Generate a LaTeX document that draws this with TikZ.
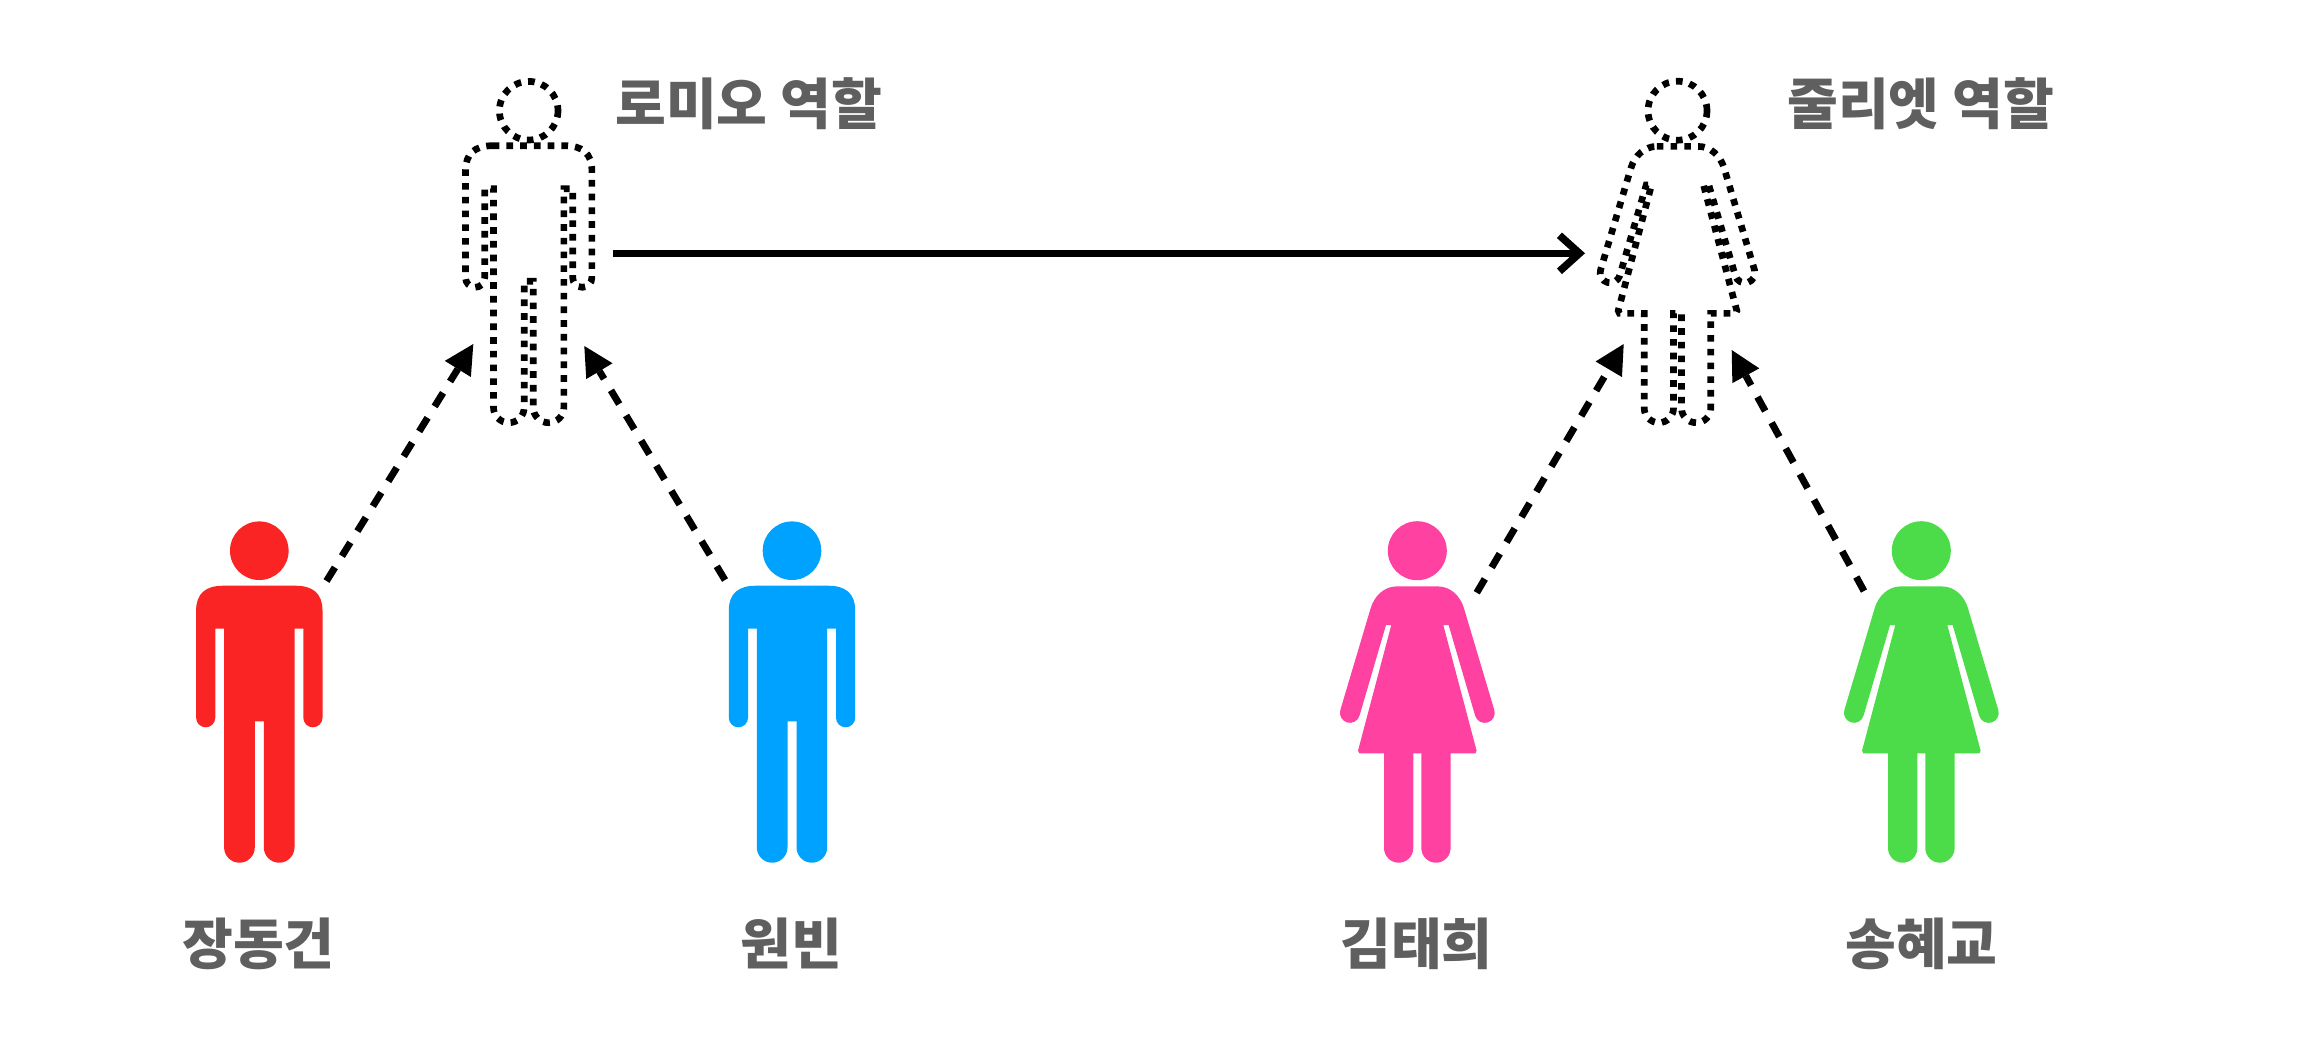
\documentclass[tikz,border=0pt]{standalone}
\usepackage{fontspec}
\newfontfamily\krfont{Noto Sans CJK KR}
\usetikzlibrary{arrows.meta}
\definecolor{labelgray}{HTML}{5F5F5F}
\definecolor{pred}{HTML}{FB2424}
\definecolor{pblue}{HTML}{00A2FF}
\definecolor{ppink}{HTML}{FF42A1}
\definecolor{pgreen}{HTML}{4CDC49}
\tikzset{
  manshape/.pic={
    \path[pic actions] (0,0) circle[radius=29.3];
    \path[pic actions] (-36,35) -- (36,35) .. controls (54,35) and (63.2,43) .. (63.2,60)
      -- (63.2,167) arc[start angle=0,end angle=180,radius=9.6]
      -- (44,78) -- (35.2,78) -- (35.2,296.65)
      arc[start angle=0,end angle=180,radius=15.35]
      -- (4.5,170.6) -- (-4.5,170.6) -- (-4.5,296.65)
      arc[start angle=0,end angle=180,radius=15.35]
      -- (-35.2,78) -- (-44,78) -- (-44,167)
      arc[start angle=0,end angle=180,radius=9.6]
      -- (-63.2,60) .. controls (-63.2,43) and (-54,35) .. (-36,35) -- cycle;
  },
  womanshape/.pic={
    \path[pic actions] (0,0) circle[radius=29.5];
    \path[pic actions] (-20.7,35.7) -- (20.7,35.7) .. controls (33,35.7) and (43,45) .. (46.7,57.7)
      -- (77,159.3) arc[start angle=-16.7,end angle=163.3,radius=10]
      -- (31.3,74.3) -- (26,74.3) -- (59.3,200) -- (58,202.7) -- (33.3,202.7) -- (33.3,297.35)
      arc[start angle=0,end angle=180,radius=14.65]
      -- (4,202.7) -- (-4,202.7) -- (-4,297.35)
      arc[start angle=0,end angle=180,radius=14.65]
      -- (-33.3,202.7) -- (-58,202.7) -- (-59.3,200) -- (-26,74.3) -- (-31.3,74.3) -- (-57.8,165)
      arc[start angle=16.7,end angle=196.7,radius=10]
      -- (-46.7,57.7) .. controls (-43,45) and (-33,35.7) .. (-20.7,35.7) -- cycle;
  },
  role/.style={draw=black,line width=5pt,dash pattern=on 5pt off 5.3pt},
  label/.style={font=\krfont\bfseries\fontsize{41.4}{41.4}\selectfont,text=labelgray,inner sep=0pt,anchor=base},
  rolelabel/.style={label,anchor=base west},
  playsarrow/.style={line width=5.2pt,dash pattern=on 12pt off 10pt,-{Triangle[length=22pt,width=23pt,line width=0pt]}},
  pairarrow/.style={line width=5.2pt,-{Straight Barb[length=15pt,width=27pt,line width=5.6pt]}},
}
\begin{document}
\begin{tikzpicture}[x=0.75pt,y=-0.75pt]
\useasboundingbox[fill=white] (0,0) rectangle (2316,1058);
\pic (romeo) at (528.7,110.7) [role] {manshape};
\pic (juliet) at (1677.5,110.7) [role] {womanshape};
\pic (jang) at (259.3,550.7) [fill=pred] {manshape};
\pic (won) at (792,550.7) [fill=pblue] {manshape};
\pic (kim) at (1417.3,550.7) [fill=ppink] {womanshape};
\pic (song) at (1921.3,550.7) [fill=pgreen] {womanshape};

\coordinate (romeoL) at (473.3,344);
\coordinate (romeoR) at (584.3,346);
\coordinate (julietL) at (1623.7,344);
\coordinate (julietR) at (1731.7,350);
\coordinate (jangOut) at (326.5,581);
\coordinate (wonOut) at (725,580);
\coordinate (kimOut) at (1476.7,592.7);
\coordinate (songOut) at (1864,591);
\coordinate (romeoOut) at (612.7,253.3);
\coordinate (julietIn) at (1585,253.3);

\draw[playsarrow] (jangOut) -- (romeoL);
\draw[playsarrow] (wonOut) -- (romeoR);
\draw[playsarrow] (kimOut) -- (julietL);
\draw[playsarrow] (songOut) -- (julietR);
\draw[pairarrow] (romeoOut) -- (julietIn);

\node[rolelabel] (romeoText) at (615,124.5) {로미오 역할};
\node[rolelabel] (julietText) at (1787,124.5) {줄리엣 역할};
\node[label] (jangText) at (258.5,964) {장동건};
\node[label] (wonText) at (791.5,964) {원빈};
\node[label] (kimText) at (1416.5,964) {김태희};
\node[label] (songText) at (1921.5,964) {송혜교};
\end{tikzpicture}
\end{document}
